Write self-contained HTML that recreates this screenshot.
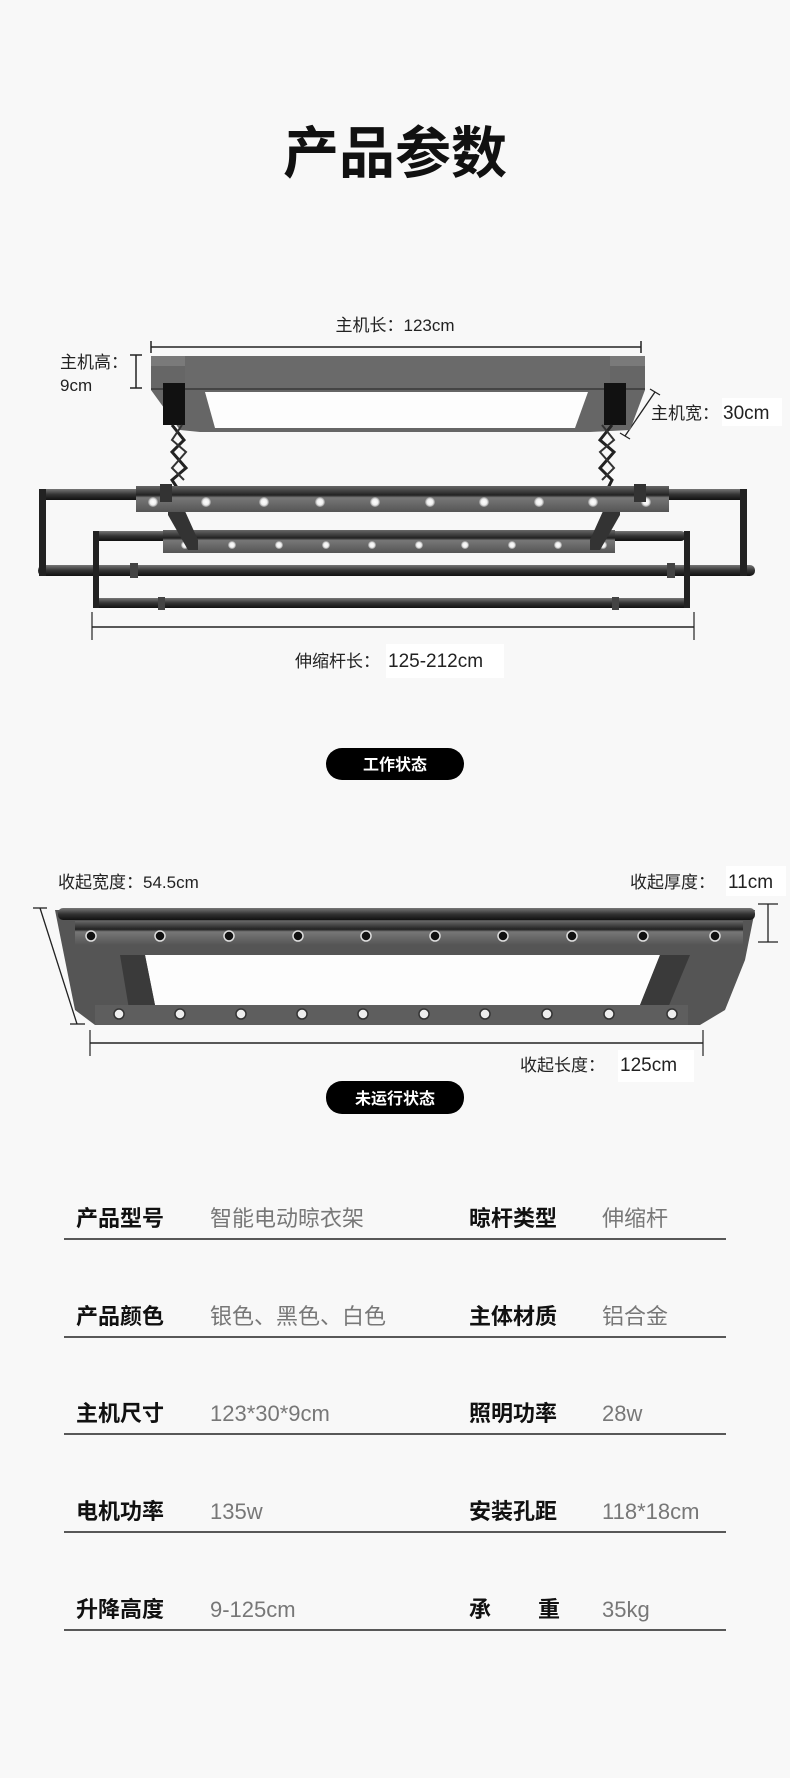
<!DOCTYPE html>
<html><head><meta charset="utf-8"><style>
html,body{margin:0;padding:0;background:#f8f8f8}
body{width:790px;height:1778px;position:relative;overflow:hidden;font-family:"Liberation Sans","Noto Sans CJK SC",sans-serif}
svg{position:absolute;left:0;top:0}
text{font-family:"Liberation Sans","Noto Sans CJK SC",sans-serif}
</style></head><body>
<svg width="790" height="1778" viewBox="0 0 790 1778" xmlns="http://www.w3.org/2000/svg">
<defs>
<linearGradient id="rod" x1="0" y1="0" x2="0" y2="1"><stop offset="0" stop-color="#777"/><stop offset="0.5" stop-color="#333"/><stop offset="1" stop-color="#111"/></linearGradient>
<linearGradient id="bar" x1="0" y1="0" x2="0" y2="1"><stop offset="0" stop-color="#666"/><stop offset="0.35" stop-color="#222"/><stop offset="0.45" stop-color="#777"/><stop offset="1" stop-color="#555"/></linearGradient>
<radialGradient id="led"><stop offset="0" stop-color="#fff"/><stop offset="0.6" stop-color="#eee"/><stop offset="1" stop-color="#888"/></radialGradient>
</defs>
<!-- Title -->
<text x="395" y="173" font-size="56" font-weight="bold" text-anchor="middle" fill="#111">产品参数</text>

<!-- ============ Diagram 1 ============ -->
<text x="395" y="331" font-size="17" text-anchor="middle" fill="#222">主机长：123cm</text>
<line x1="151" y1="347" x2="641" y2="347" stroke="#222" stroke-width="1.5"/>
<line x1="151" y1="341" x2="151" y2="353" stroke="#222" stroke-width="1.5"/>
<line x1="641" y1="341" x2="641" y2="353" stroke="#222" stroke-width="1.5"/>
<text x="60" y="368" font-size="17" fill="#222">主机高：</text>
<text x="60" y="391" font-size="17" fill="#222">9cm</text>
<line x1="136" y1="355" x2="136" y2="388" stroke="#222" stroke-width="1.5"/>
<line x1="130" y1="355" x2="142" y2="355" stroke="#222" stroke-width="1.5"/>
<line x1="130" y1="388" x2="142" y2="388" stroke="#222" stroke-width="1.5"/>
<rect x="722" y="398" width="60" height="28" fill="#fff"/>
<text x="651" y="419" font-size="17" fill="#222">主机宽：</text>
<text x="723" y="419" font-size="19" fill="#222">30cm</text>
<line x1="655" y1="392" x2="625" y2="436" stroke="#222" stroke-width="1.3"/>
<line x1="650" y1="389" x2="660" y2="395" stroke="#222" stroke-width="1.3"/>
<line x1="620" y1="433" x2="630" y2="439" stroke="#222" stroke-width="1.3"/>
<!-- host box -->
<polygon points="151,356 645,356 645,390 630,430 590,432 200,432 180,430 151,390" fill="#666"/>
<rect x="151" y="356" width="494" height="10" fill="#7a7a7a"/>
<rect x="185" y="356" width="425" height="34" fill="#6a6a6a"/>
<line x1="151" y1="389" x2="645" y2="389" stroke="#444" stroke-width="2"/>
<polygon points="205,392 588,392 575,428 215,428" fill="#fdfdfd"/>
<rect x="163" y="383" width="22" height="42" fill="#111"/>
<rect x="604" y="383" width="22" height="42" fill="#111"/>
<!-- scissor arms -->
<polyline points="172,425 184,440 172,452 186,468 172,480 180,492" fill="none" stroke="#222" stroke-width="3"/>
<polyline points="182,425 172,440 186,452 172,468 184,480" fill="none" stroke="#333" stroke-width="2"/>
<polyline points="612,425 600,440 614,452 600,468 612,480 606,492" fill="none" stroke="#222" stroke-width="3"/>
<polyline points="602,425 614,440 600,452 614,468 602,480" fill="none" stroke="#333" stroke-width="2"/>
<!-- outer frame -->
<rect x="40" y="489" width="706" height="11" rx="5" fill="url(#rod)"/>
<rect x="38" y="565" width="717" height="11" rx="5" fill="url(#rod)"/>
<rect x="39" y="489" width="7" height="87" fill="#222"/>
<rect x="740" y="489" width="7" height="87" fill="#222"/>
<!-- second frame -->
<rect x="95" y="531" width="590" height="10" rx="4" fill="url(#rod)"/>
<rect x="93" y="598" width="597" height="10" rx="4" fill="url(#rod)"/>
<rect x="93" y="531" width="6" height="77" fill="#222"/>
<rect x="684" y="531" width="6" height="77" fill="#222"/>
<rect x="130" y="563" width="8" height="15" fill="#444"/>
<rect x="667" y="563" width="8" height="15" fill="#444"/>
<rect x="158" y="597" width="7" height="13" fill="#444"/>
<rect x="612" y="597" width="7" height="13" fill="#444"/>
<!-- LED bar 2 -->
<rect x="163" y="530" width="452" height="23" fill="url(#bar)"/>
<g fill="url(#led)">
<circle cx="185" cy="545" r="4"/><circle cx="232" cy="545" r="4"/><circle cx="279" cy="545" r="4"/><circle cx="326" cy="545" r="4"/><circle cx="372" cy="545" r="4"/><circle cx="419" cy="545" r="4"/><circle cx="465" cy="545" r="4"/><circle cx="512" cy="545" r="4"/><circle cx="558" cy="545" r="4"/><circle cx="603" cy="545" r="4"/>
</g>
<!-- vertical posts -->
<polygon points="168,500 180,500 198,540 198,550 188,550 168,515" fill="#333"/>
<polygon points="620,500 608,500 590,540 590,550 600,550 620,515" fill="#333"/>
<!-- LED bar 1 -->
<rect x="136" y="486" width="533" height="26" fill="url(#bar)"/>
<g fill="url(#led)">
<circle cx="153" cy="502" r="5"/><circle cx="206" cy="502" r="5"/><circle cx="264" cy="502" r="5"/><circle cx="320" cy="502" r="5"/><circle cx="375" cy="502" r="5"/><circle cx="430" cy="502" r="5"/><circle cx="484" cy="502" r="5"/><circle cx="539" cy="502" r="5"/><circle cx="593" cy="502" r="5"/><circle cx="646" cy="502" r="5"/>
</g>
<rect x="160" y="484" width="12" height="18" fill="#333"/>
<rect x="634" y="484" width="12" height="18" fill="#333"/>
<!-- bottom dim -->
<line x1="92" y1="627" x2="694" y2="627" stroke="#222" stroke-width="1.5"/>
<line x1="92" y1="612" x2="92" y2="640" stroke="#222" stroke-width="1.2"/>
<line x1="694" y1="612" x2="694" y2="640" stroke="#222" stroke-width="1.2"/>
<rect x="386" y="644" width="118" height="34" fill="#fff"/>
<text x="295" y="667" font-size="17" fill="#222">伸缩杆长：</text>
<text x="388" y="667" font-size="19" fill="#222">125-212cm</text>

<!-- badge 1 -->
<rect x="326" y="748" width="138" height="32" rx="16" fill="#000"/>
<text x="395" y="770" font-size="16" font-weight="bold" text-anchor="middle" fill="#fff">工作状态</text>

<!-- ============ Diagram 2 ============ -->
<text x="58" y="888" font-size="17" fill="#222">收起宽度：54.5cm</text>
<rect x="726" y="866" width="60" height="30" fill="#fff"/>
<text x="630" y="888" font-size="17" fill="#222">收起厚度：</text>
<text x="728" y="888" font-size="19" fill="#222">11cm</text>
<line x1="768" y1="904" x2="768" y2="942" stroke="#222" stroke-width="1.3"/>
<line x1="758" y1="904" x2="778" y2="904" stroke="#222" stroke-width="1.3"/>
<line x1="758" y1="942" x2="778" y2="942" stroke="#222" stroke-width="1.3"/>
<line x1="40" y1="908" x2="77" y2="1024" stroke="#222" stroke-width="1.3"/>
<line x1="33" y1="908" x2="47" y2="908" stroke="#222" stroke-width="1.3"/>
<line x1="70" y1="1024" x2="85" y2="1024" stroke="#222" stroke-width="1.3"/>
<!-- body -->
<polygon points="55,910 755,910 745,960 725,1010 700,1025 95,1025 75,1010 65,960" fill="#555"/>
<polygon points="145,955 660,955 640,1005 155,1005" fill="#fdfdfd"/>
<polygon points="120,955 145,955 155,1005 130,1015" fill="#3a3a3a"/>
<polygon points="660,955 690,955 665,1015 640,1005" fill="#3a3a3a"/>
<rect x="58" y="908" width="697" height="12" rx="5" fill="url(#rod)"/>
<rect x="75" y="921" width="668" height="24" fill="url(#bar)"/>
<g fill="#111" stroke="#ddd" stroke-width="1.5">
<circle cx="91" cy="936" r="5"/><circle cx="160" cy="936" r="5"/><circle cx="229" cy="936" r="5"/><circle cx="298" cy="936" r="5"/><circle cx="366" cy="936" r="5"/><circle cx="435" cy="936" r="5"/><circle cx="503" cy="936" r="5"/><circle cx="572" cy="936" r="5"/><circle cx="643" cy="936" r="5"/><circle cx="715" cy="936" r="5"/>
</g>
<rect x="95" y="1005" width="593" height="20" fill="#5e5e5e"/>
<g fill="#eee" stroke="#333" stroke-width="1.5">
<circle cx="119" cy="1014" r="5"/><circle cx="180" cy="1014" r="5"/><circle cx="241" cy="1014" r="5"/><circle cx="302" cy="1014" r="5"/><circle cx="363" cy="1014" r="5"/><circle cx="424" cy="1014" r="5"/><circle cx="485" cy="1014" r="5"/><circle cx="547" cy="1014" r="5"/><circle cx="609" cy="1014" r="5"/><circle cx="672" cy="1014" r="5"/>
</g>
<!-- bottom dim -->
<line x1="90" y1="1043" x2="703" y2="1043" stroke="#222" stroke-width="1.5"/>
<line x1="90" y1="1030" x2="90" y2="1056" stroke="#222" stroke-width="1.2"/>
<line x1="703" y1="1030" x2="703" y2="1056" stroke="#222" stroke-width="1.2"/>
<rect x="618" y="1050" width="76" height="32" fill="#fff"/>
<text x="520" y="1071" font-size="17" fill="#222">收起长度：</text>
<text x="620" y="1071" font-size="19" fill="#222">125cm</text>

<!-- badge 2 -->
<rect x="326" y="1081" width="138" height="33" rx="16" fill="#000"/>
<text x="395" y="1104" font-size="16" font-weight="bold" text-anchor="middle" fill="#fff">未运行状态</text>

<!-- ============ Table ============ -->
<g font-size="22">
<g font-weight="bold" fill="#111">
<text x="76" y="1226">产品型号</text><text x="469" y="1226">晾杆类型</text>
<text x="76" y="1324">产品颜色</text><text x="469" y="1324">主体材质</text>
<text x="76" y="1421">主机尺寸</text><text x="469" y="1421">照明功率</text>
<text x="76" y="1519">电机功率</text><text x="469" y="1519">安装孔距</text>
<text x="76" y="1617">升降高度</text><text x="469" y="1617">承</text><text x="538" y="1617">重</text>
</g>
<g fill="#777">
<text x="210" y="1226">智能电动晾衣架</text><text x="602" y="1226">伸缩杆</text>
<text x="210" y="1324">银色、黑色、白色</text><text x="602" y="1324">铝合金</text>
<text x="210" y="1421">123*30*9cm</text><text x="602" y="1421">28w</text>
<text x="210" y="1519">135w</text><text x="602" y="1519">118*18cm</text>
<text x="210" y="1617">9-125cm</text><text x="602" y="1617">35kg</text>
</g>
</g>
<g stroke="#222" stroke-width="1.5">
<line x1="64" y1="1239" x2="726" y2="1239"/>
<line x1="64" y1="1337" x2="726" y2="1337"/>
<line x1="64" y1="1434" x2="726" y2="1434"/>
<line x1="64" y1="1532" x2="726" y2="1532"/>
<line x1="64" y1="1630" x2="726" y2="1630"/>
</g>
</svg>
</body></html>
